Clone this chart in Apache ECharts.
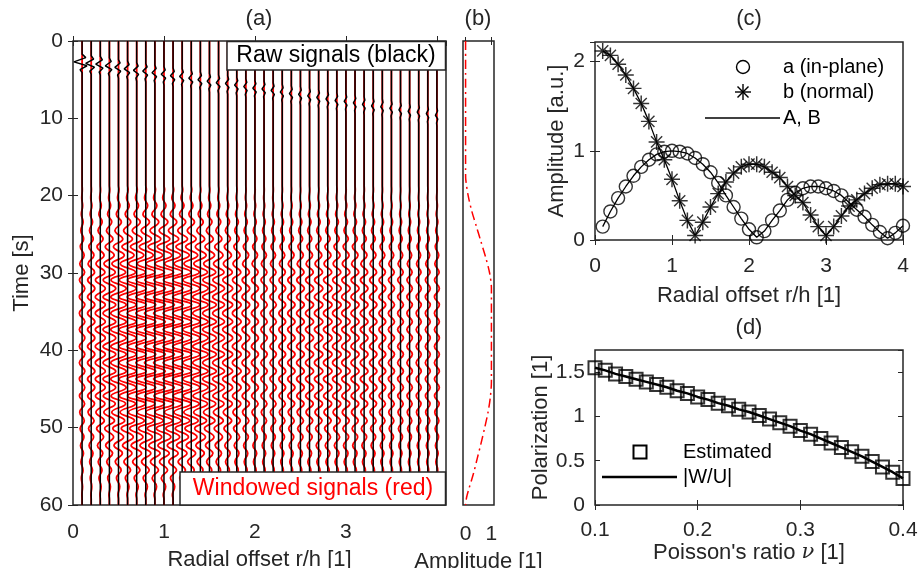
<!DOCTYPE html>
<html><head><meta charset="utf-8">
<script src="https://cdn.jsdelivr.net/npm/echarts@6/dist/echarts.min.js"></script>
<style>html,body{margin:0;padding:0;background:#fff}#c{width:919px;height:568px}</style>
</head><body><div id="c"></div>
<script>
// ---------- Panel (a): wiggle traces ----------
const traceOffsets = [0.1,0.2,0.3,0.4,0.5,0.6,0.7,0.8,0.9,1.0,1.1,1.2,1.3,1.4,1.5,1.6,1.7,1.8,1.9,2.0,2.1,2.2,2.3,2.4,2.5,2.6,2.7,2.8,2.9,3.0,3.1,3.2,3.3,3.4,3.5,3.6,3.7,3.8,3.9,4.0];
// amplitude (in r/h units) of the windowed (red) wiggle on each trace
const redAmp = [0.03,0.04,0.055,0.07,0.085,0.095,0.105,0.11,0.115,0.115,0.11,0.105,0.095,0.085,0.075,0.065,0.055,0.048,0.042,0.038,0.035,0.035,0.037,0.04,0.042,0.044,0.046,0.047,0.047,0.046,0.044,0.042,0.04,0.037,0.034,0.032,0.03,0.028,0.027,0.027];
// first-arrival time [s] and amplitude of the raw (black) traces
const arrivalTime = [2.7,2.9,3.0,3.2,3.4,3.6,3.8,3.9,4.1,4.3,4.5,4.6,4.8,5.0,5.2,5.4,5.5,5.7,5.9,6.1,6.2,6.4,6.6,6.8,6.9,7.1,7.3,7.5,7.7,7.8,8.0,8.2,8.4,8.5,8.7,8.9,9.1,9.2,9.4,9.6];
const arrivalAmp = [0.09,0.06,0.05,0.045,0.04,0.037,0.035,0.033,0.031,0.03,0.029,0.028,0.027,0.026,0.025,0.025,0.024,0.024,0.023,0.023,0.022,0.022,0.021,0.021,0.02,0.02,0.02,0.019,0.019,0.019,0.018,0.018,0.018,0.017,0.017,0.017,0.016,0.016,0.016,0.016];
// times [s] of successive (alternating) wiggle peaks and window level at each
const peakTimes = [19.2,20.3,21.3,22.4,23.4,24.5,25.6,26.6,27.7,28.8,29.9,30.9,32.0,33.1,34.1,35.2,36.3,37.3,38.4,39.5,40.5,41.6,42.7,43.7,44.8,45.9,46.9,48.0,49.1,50.1,51.2,52.3,53.3,54.4,55.5,56.5,57.6,58.7];
const peakEnv   = [0.06,0.12,0.19,0.28,0.37,0.46,0.56,0.65,0.75,0.85,0.92,0.97,1.0,1.0,1.0,1.0,1.0,1.0,1.0,1.0,1.0,1.0,1.0,1.0,0.99,0.96,0.92,0.87,0.8,0.73,0.66,0.58,0.5,0.42,0.34,0.26,0.16,0.07];

// ---------- Panel (b): window ----------
const windowTime  = [0,17,18,20,22,24,26,28,30,32,44,46,48,50,52,54,56,58,59,60];
const windowValue = [0,0,0.01,0.1,0.24,0.42,0.6,0.78,0.93,1,1,0.96,0.87,0.74,0.6,0.45,0.3,0.12,0.04,0];

// ---------- Panel (c): amplitudes ----------
const radialOffset = [0.1,0.2,0.3,0.4,0.5,0.6,0.7,0.8,0.9,1.0,1.1,1.2,1.3,1.4,1.5,1.6,1.7,1.8,1.9,2.0,2.1,2.2,2.3,2.4,2.5,2.6,2.7,2.8,2.9,3.0,3.1,3.2,3.3,3.4,3.5,3.6,3.7,3.8,3.9,4.0];
const ampInPlane = [0.15,0.32,0.47,0.6,0.72,0.82,0.9,0.96,0.99,1.0,0.99,0.97,0.92,0.85,0.76,0.64,0.5,0.37,0.24,0.12,0.03,0.1,0.22,0.33,0.45,0.53,0.58,0.6,0.6,0.58,0.55,0.5,0.42,0.34,0.26,0.17,0.09,0.02,0.08,0.16];
const ampNormal  = [2.12,2.07,1.97,1.85,1.7,1.53,1.33,1.1,0.9,0.68,0.44,0.22,0.05,0.2,0.37,0.52,0.65,0.75,0.82,0.85,0.85,0.82,0.76,0.7,0.6,0.5,0.42,0.28,0.15,0.05,0.15,0.27,0.38,0.45,0.52,0.58,0.62,0.63,0.63,0.6];

// ---------- Panel (d): polarization ----------
const poisson = [0.10,0.11,0.12,0.13,0.14,0.15,0.16,0.17,0.18,0.19,0.20,0.21,0.22,0.23,0.24,0.25,0.26,0.27,0.28,0.29,0.30,0.31,0.32,0.33,0.34,0.35,0.36,0.37,0.38,0.39,0.40];
const polarization = [1.55,1.52,1.48,1.45,1.42,1.39,1.36,1.33,1.29,1.26,1.22,1.19,1.15,1.12,1.08,1.05,1.01,0.97,0.93,0.89,0.84,0.8,0.75,0.7,0.65,0.6,0.55,0.49,0.43,0.37,0.3];

const FONT = "'Liberation Sans', Arial, Helvetica, sans-serif";
const AX = '#262626';
const TICK = 21;

function zip(xs, ys){ return xs.map((x,i)=>[x, ys[i]]); }

const series = [];
// red windowed traces (underneath)
traceOffsets.forEach((x,i)=>{
  const pts = [[x,0],[x,peakTimes[0]-0.55]];
  peakTimes.forEach((t,k)=>{
    const s = (k % 2 === 0) ? 1 : -1;
    pts.push([x + s*redAmp[i]*peakEnv[k], t]);
  });
  pts.push([x, peakTimes[peakTimes.length-1]+0.55]);
  pts.push([x,60]);
  series.push({type:'line', xAxisIndex:0, yAxisIndex:0, data:pts, smooth:0.45, showSymbol:false, silent:true, z:2,
    lineStyle:{color:'#ff0000', width:1.8}});
});
// black raw traces
traceOffsets.forEach((x,i)=>{
  const ta = arrivalTime[i], A = arrivalAmp[i];
  const pts = [[x,0],[x,ta-1.0],[x+0.45*A,ta-0.55],[x-A,ta],[x+0.6*A,ta+0.5],[x-0.25*A,ta+1.0],[x,ta+1.4],[x,60]];
  series.push({type:'line', xAxisIndex:0, yAxisIndex:0, data:pts, showSymbol:false, silent:true, z:3,
    lineStyle:{color:'#000', width:1.5}});
});
// panel b
series.push({type:'line', xAxisIndex:2, yAxisIndex:2, data:zip(windowValue, windowTime), smooth:0.3, showSymbol:false, silent:true,
  lineStyle:{color:'#ff0000', width:1.5, type:[9,4,2,4]}});
// panel c
const starPath = 'path://M0 10.9L24 10.9L24 13.1L0 13.1Z M10.9 0L13.1 0L13.1 24L10.9 24Z M2.9 4.4L4.4 2.9L21.1 19.6L19.6 21.1Z M19.6 2.9L21.1 4.4L4.4 21.1L2.9 19.6Z';
series.push({type:'line', xAxisIndex:4, yAxisIndex:4, data:zip(radialOffset, ampInPlane), showSymbol:false, silent:true, lineStyle:{color:'#000', width:1.3}, z:2});
series.push({type:'line', xAxisIndex:4, yAxisIndex:4, data:zip(radialOffset, ampNormal), showSymbol:false, silent:true, lineStyle:{color:'#000', width:1.3}, z:2});
series.push({type:'scatter', xAxisIndex:4, yAxisIndex:4, data:zip(radialOffset, ampInPlane), symbol:'circle', symbolSize:13, clip:false, silent:true, z:3,
  itemStyle:{color:'rgba(0,0,0,0)', borderColor:'#000', borderWidth:1.4}});
series.push({type:'scatter', xAxisIndex:4, yAxisIndex:4, data:zip(radialOffset, ampNormal), symbol:starPath, symbolSize:16, clip:false, silent:true, z:3,
  itemStyle:{color:'#000'}});
// panel d
series.push({type:'line', xAxisIndex:6, yAxisIndex:6, data:zip(poisson, polarization), showSymbol:false, silent:true, lineStyle:{color:'#000', width:2.5}, z:2});
series.push({type:'scatter', xAxisIndex:6, yAxisIndex:6, data:zip(poisson, polarization), symbol:'rect', symbolSize:13, clip:false, silent:true, z:3,
  itemStyle:{color:'rgba(0,0,0,0)', borderColor:'#000', borderWidth:2}});

const lbl = (extra)=>Object.assign({color:AX, fontFamily:FONT, fontSize:TICK}, extra||{});
const nameStyle = {color:AX, fontFamily:FONT, fontSize:22};
function mainX(grid, o){ return Object.assign({type:'value', gridIndex:grid, position:'bottom', axisLine:{show:false}, splitLine:{show:false},
  axisTick:{inside:true, length:5, lineStyle:{color:AX}}, axisLabel:lbl({margin:18}), nameLocation:'middle', nameTextStyle:nameStyle}, o); }
function mirX(grid, o){ return Object.assign({type:'value', gridIndex:grid, position:'top', axisLine:{show:false}, splitLine:{show:false},
  axisTick:{inside:true, length:5, lineStyle:{color:AX}}, axisLabel:{show:false}}, o); }
function mainY(grid, o){ return Object.assign({type:'value', gridIndex:grid, position:'left', axisLine:{show:false}, splitLine:{show:false},
  axisTick:{inside:true, length:5, lineStyle:{color:AX}}, axisLabel:lbl({margin:10, showMaxLabel:false}), nameLocation:'middle', nameTextStyle:nameStyle}, o); }
function mirY(grid, o){ return Object.assign({type:'value', gridIndex:grid, position:'right', axisLine:{show:false}, splitLine:{show:false},
  axisTick:{inside:true, length:5, lineStyle:{color:AX}}, axisLabel:{show:false}}, o); }

const gridStyle = {show:true, borderColor:AX, borderWidth:1.5, backgroundColor:'transparent', containLabel:false, outerBoundsMode:'none'};
const option = {
  animation:false,
  backgroundColor:'#fff',
  grid:[
    Object.assign({left:73, top:41, width:373, height:464}, gridStyle),
    Object.assign({left:463, top:41, width:31, height:464}, gridStyle),
    Object.assign({left:595, top:42, width:308, height:198}, gridStyle),
    Object.assign({left:595, top:350, width:308, height:155}, gridStyle)
  ],
  xAxis:[
    mainX(0,{min:0, max:4.1, interval:1, name:'Radial offset r/h [1]', nameGap:44,
      axisLabel:lbl({margin:17, showMaxLabel:false, formatter:v=> v>3.01 ? '' : String(v)})}),
    mirX(0,{min:0, max:4.1, interval:1}),
    mainX(1,{min:-0.1, max:1.1, name:'Amplitude [1]', nameGap:46,
      axisLabel:lbl({margin:19, customValues:[0,1]}), axisTick:{inside:true, length:4, lineStyle:{color:AX}, customValues:[0,1]}}),
    mirX(1,{min:-0.1, max:1.1, axisTick:{inside:true, length:4, lineStyle:{color:AX}, customValues:[0,1]}}),
    mainX(2,{min:0, max:4, interval:1, name:'Radial offset r/h [1]', nameGap:45, axisLabel:lbl({margin:16})}),
    mirX(2,{min:0, max:4, interval:1}),
    mainX(3,{min:0.1, max:0.4, interval:0.1, name:"Poisson's ratio {i|ν} [1]", nameGap:37, axisLabel:lbl({margin:15}),
      nameTextStyle:Object.assign({}, nameStyle, {rich:{i:{fontFamily:"'DejaVu Serif', serif", fontStyle:'italic', fontSize:21, color:AX}}})}),
    mirX(3,{min:0.1, max:0.4, interval:0.1})
  ],
  yAxis:[
    mainY(0,{min:0, max:60, interval:10, inverse:true, name:'Time [s]', nameGap:40, axisLabel:lbl({margin:10})}),
    mirY(0,{min:0, max:60, interval:10, inverse:true}),
    mainY(1,{min:0, max:60, interval:10, inverse:true, axisLabel:{show:false}, axisTick:{show:false}}),
    mirY(1,{min:0, max:60, interval:10, inverse:true, axisTick:{show:false}}),
    mainY(2,{min:0, max:2.22, interval:1, name:'Amplitude [a.u.]', nameGap:27}),
    mirY(2,{min:0, max:2.22, interval:1}),
    mainY(3,{min:0, max:1.75, interval:0.5, name:'Polarization [1]', nameGap:41}),
    mirY(3,{min:0, max:1.75, interval:0.5})
  ],
  series:series,
  graphic:[
    // panel titles
    {type:'text', z:100, style:{text:'(a)', x:259, y:19, align:'center', verticalAlign:'middle', font:'22px '+FONT, fill:AX}},
    {type:'text', z:100, style:{text:'(b)', x:478, y:19, align:'center', verticalAlign:'middle', font:'22px '+FONT, fill:AX}},
    {type:'text', z:100, style:{text:'(c)', x:749, y:19, align:'center', verticalAlign:'middle', font:'22px '+FONT, fill:AX}},
    {type:'text', z:100, style:{text:'(d)', x:749, y:328, align:'center', verticalAlign:'middle', font:'22px '+FONT, fill:AX}},
    // panel (a) annotation boxes
    {type:'rect', z:100, shape:{x:227, y:41.5, width:218.5, height:28.5}, style:{fill:'#fff', stroke:AX, lineWidth:1.5}},
    {type:'text', z:101, style:{text:'Raw signals (black)', x:336, y:56, align:'center', verticalAlign:'middle', font:'23px '+FONT, fill:'#000'}},
    {type:'rect', z:100, shape:{x:180, y:472, width:265.5, height:33}, style:{fill:'#fff', stroke:AX, lineWidth:1.5}},
    {type:'text', z:101, style:{text:'Windowed signals (red)', x:313, y:489, align:'center', verticalAlign:'middle', font:'23px '+FONT, fill:'#ff0000'}},
    // panel (c) legend
    {type:'circle', z:100, shape:{cx:743, cy:67, r:6.5}, style:{fill:'none', stroke:'#000', lineWidth:1.4}},
    {type:'text', z:100, style:{text:'a (in-plane)', x:783, y:67, align:'left', verticalAlign:'middle', font:'20px '+FONT, fill:'#000'}},
    {type:'line', z:100, shape:{x1:735, y1:92, x2:751, y2:92}, style:{stroke:'#000', lineWidth:1.4}},
    {type:'line', z:100, shape:{x1:743, y1:84, x2:743, y2:100}, style:{stroke:'#000', lineWidth:1.4}},
    {type:'line', z:100, shape:{x1:737.5, y1:86.5, x2:748.5, y2:97.5}, style:{stroke:'#000', lineWidth:1.4}},
    {type:'line', z:100, shape:{x1:748.5, y1:86.5, x2:737.5, y2:97.5}, style:{stroke:'#000', lineWidth:1.4}},
    {type:'text', z:100, style:{text:'b (normal)', x:783, y:92, align:'left', verticalAlign:'middle', font:'20px '+FONT, fill:'#000'}},
    {type:'line', z:100, shape:{x1:705, y1:118, x2:780, y2:118}, style:{stroke:'#000', lineWidth:1.3}},
    {type:'text', z:100, style:{text:'A, B', x:783, y:118, align:'left', verticalAlign:'middle', font:'20px '+FONT, fill:'#000'}},
    // panel (d) legend
    {type:'rect', z:100, shape:{x:633.5, y:445.5, width:13, height:13}, style:{fill:'none', stroke:'#000', lineWidth:2}},
    {type:'text', z:100, style:{text:'Estimated', x:683, y:452, align:'left', verticalAlign:'middle', font:'20px '+FONT, fill:'#000'}},
    {type:'line', z:100, shape:{x1:602, y1:477, x2:677, y2:477}, style:{stroke:'#000', lineWidth:2.5}},
    {type:'text', z:100, style:{text:'|W/U|', x:683, y:477, align:'left', verticalAlign:'middle', font:'20px '+FONT, fill:'#000'}}
  ]
};
const chart = echarts.init(document.getElementById('c'), null, {renderer:'canvas'});
chart.setOption(option);
</script></body></html>
